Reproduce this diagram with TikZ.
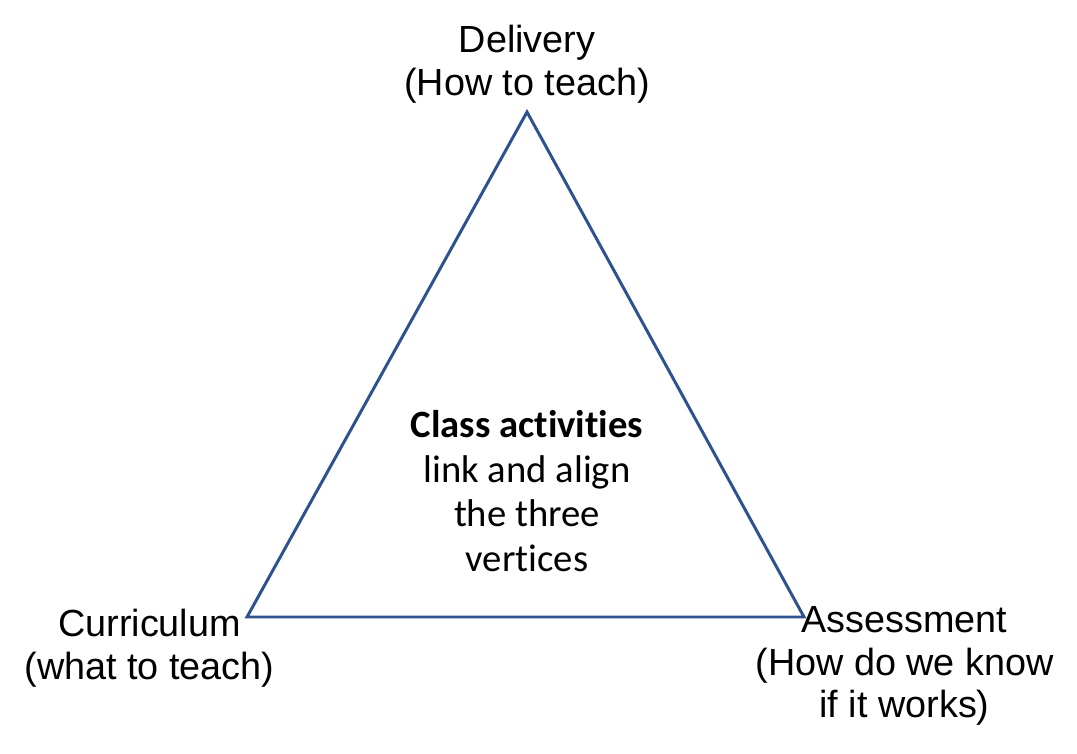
\documentclass[tikz,border=0pt]{standalone}
\usepackage{fontspec}
\setmainfont{Liberation Sans}
\newfontfamily\calibri[Ligatures=NoCommon]{Carlito}
\definecolor{edgeblue}{RGB}{47,82,143}

\begin{document}
\begin{tikzpicture}[thick,
    vertexlabel/.style={font=\fontsize{21.5}{24.4}\selectfont, align=center, inner sep=0pt},
    centretext/.style={font=\calibri\fontsize{22}{25.5}\selectfont, align=center, inner sep=0pt}]
  \useasboundingbox (0,0) rectangle (21.54,-15.08);
  \coordinate (delivery) at (10.54,-2.24);
  \coordinate (curriculum) at (4.94,-12.34);
  \coordinate (assessment) at (16.08,-12.34);
  \draw[edgeblue, line width=1.7pt, line join=miter] (delivery) -- (curriculum) -- (assessment) -- cycle;
  \node[vertexlabel] (deliverytext) at (10.54,-1.29) {Delivery\\(How to teach)};
  \node[vertexlabel] (curriculumtext) at (2.99,-12.96) {Curriculum\\(what to teach)};
  \node[vertexlabel] (assessmenttext) at (18.09,-13.32) {Assessment\\(How do we know\\if it works)};
  \node[centretext] (activities) at (10.54,-9.82) {\textbf{Class activities}\\link and align\\the three\\vertices};
\end{tikzpicture}
\end{document}
